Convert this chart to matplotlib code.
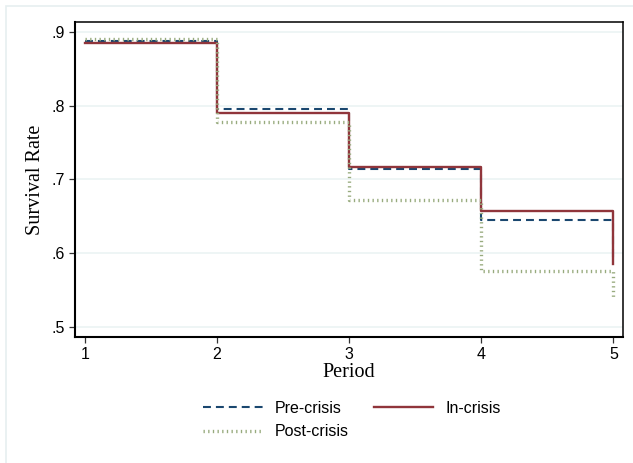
import matplotlib
matplotlib.use("Agg")
import matplotlib.pyplot as plt
from matplotlib.patches import Rectangle

# Survival rates by period for each crisis group
periods = [1, 2, 3, 4, 5]
pre_crisis = [0.888, 0.796, 0.714, 0.645, 0.590]
in_crisis = [0.8855, 0.790, 0.717, 0.657, 0.586]
post_crisis = [0.8905, 0.7775, 0.672, 0.576, 0.538]

series_labels = ["Pre-crisis", "In-crisis", "Post-crisis"]
y_ticks = [0.5, 0.6, 0.7, 0.8, 0.9]
y_tick_labels = [".5", ".6", ".7", ".8", ".9"]
x_ticks = [1, 2, 3, 4, 5]

SANS = "Liberation Sans"
SERIF = "Liberation Serif"

fig = plt.figure(figsize=(6.33, 4.63), dpi=100)
W, H = 633, 463

# faint outer frame of the graph region
fig.patches.append(Rectangle((6 / W, -0.05), 1.2, 1 - 6 / H + 0.05,
                             transform=fig.transFigure, fill=False,
                             edgecolor="#e6eff0", linewidth=1.2))

ax = fig.add_axes([75 / W, 1 - 337 / H, (623 - 75) / W, (337 - 22) / H])

ax.step(periods, pre_crisis, where="post", color="#1a476f", linewidth=1.5,
        linestyle=(0, (3.8, 2.4)), label=series_labels[0], zorder=3)
ax.step(periods, in_crisis, where="post", color="#90353b", linewidth=1.7,
        linestyle="-", label=series_labels[1], zorder=4)
ax.step(periods, post_crisis, where="post", color="#98ab7e", linewidth=2.4,
        linestyle=(0, (0.4, 1.0)), label=series_labels[2], zorder=5)

ax.set_xlim(0.924, 5.073)
ax.set_ylim(0.4864, 0.9136)
ax.set_yticks(y_ticks)
ax.set_yticklabels(y_tick_labels, fontfamily=SANS, fontsize=11.5)
ax.set_xticks(x_ticks)
ax.set_xticklabels([str(v) for v in x_ticks], fontfamily=SANS, fontsize=11.5)
ax.tick_params(axis="both", direction="out", length=4, width=0.9,
               color="#333333", pad=3)

ax.grid(axis="y", color="#eaf2f3", linewidth=1.1, zorder=0)
ax.set_axisbelow(True)
for side in ["left", "bottom", "top", "right"]:
    ax.spines[side].set_color("black")
    ax.spines[side].set_linewidth(1.1)
ax.spines["left"].set_linewidth(1.5)
ax.spines["bottom"].set_linewidth(1.5)

ax.set_xlabel("Period", fontfamily=SERIF, fontsize=14.5, labelpad=1)
ax.set_ylabel("Survival Rate", fontfamily=SERIF, fontsize=14.5, labelpad=5)

handles, labels = ax.get_legend_handles_labels()
order = [0, 2, 1]
fig.legend([handles[i] for i in order], [labels[i] for i in order],
           ncol=2, loc="center", bbox_to_anchor=(352 / W, 1 - 420 / H),
           frameon=False, prop={"family": SANS, "size": 11.5},
           handlelength=3.7, handletextpad=0.75, columnspacing=1.6,
           labelspacing=0.55)

fig.savefig("out.png", dpi=100, facecolor="white")
